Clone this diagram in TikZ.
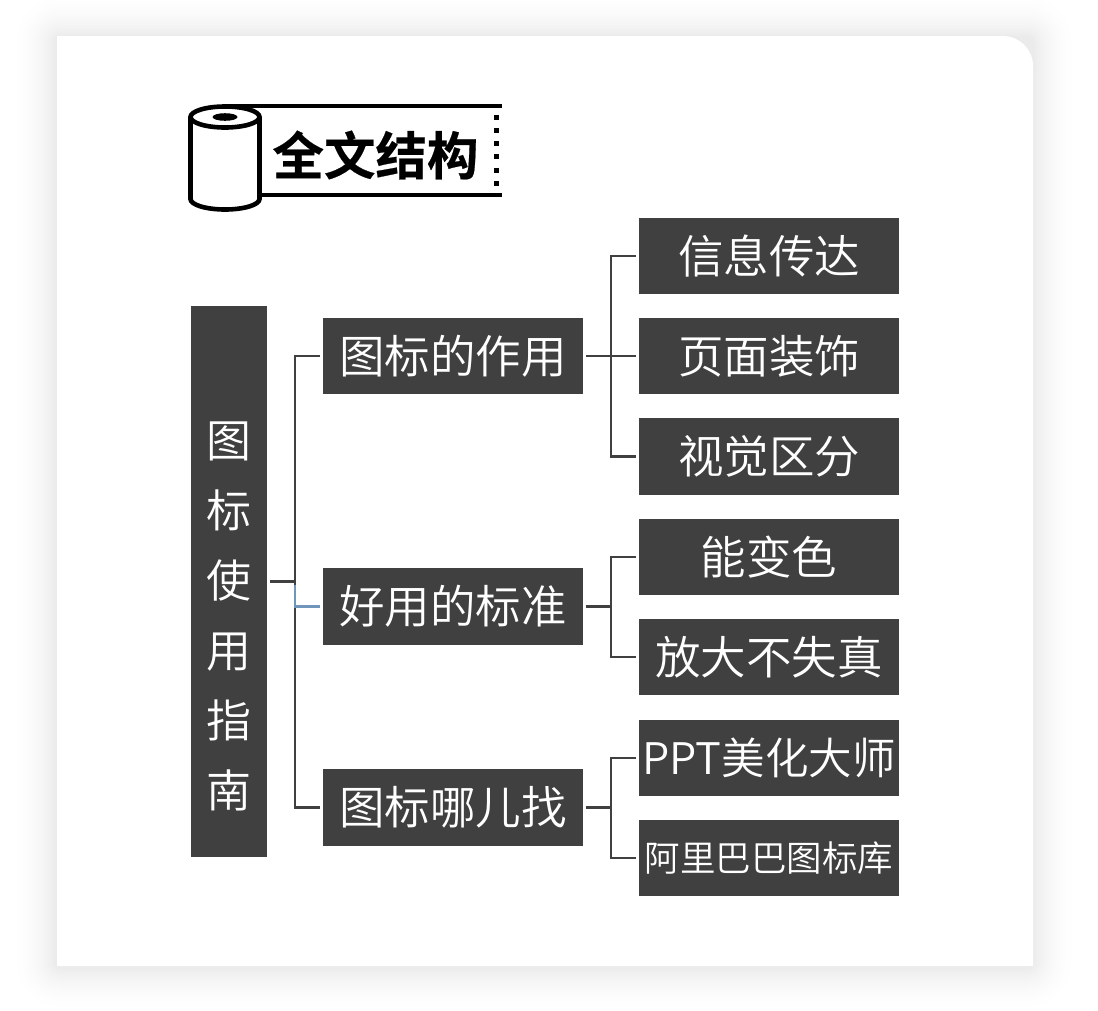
\documentclass[tikz,border=0pt]{standalone}
\usepackage{fontspec}
\setmainfont{Noto Sans CJK SC DemiLight}
\newfontfamily\cjkbold[FakeBold=0.4]{Noto Sans CJK SC Bold}
\definecolor{boxgray}{HTML}{404040}
\definecolor{linkblue}{HTML}{7096BC}
\tikzset{
  boxnode/.style={fill=boxgray,text=white,inner sep=0pt,minimum width=260pt,minimum height=76.5pt,anchor=center,font=\fontsize{45.5}{54}\selectfont},
  rootnode/.style={fill=boxgray,text=white,inner sep=0pt,minimum width=76pt,minimum height=551.5pt,align=center,font=\fontsize{45}{70}\selectfont},
  smalltext/.style={font=\fontsize{35.5}{42}\selectfont},
  midtext/.style={font=\fontsize{43.5}{52}\selectfont},
  conn/.style={draw=boxgray,line width=2.3pt,shorten <=3pt,shorten >=3pt},
  rollline/.style={draw=black,line width=4.6pt},
}
\begin{document}
\begin{tikzpicture}[x=1pt,y=-1pt]
\useasboundingbox (0,0) rectangle (1098,1010);
\fill[white] (0,0) rectangle (1098,1010);
% shadow, painted from the outside in
\foreach \d in {45,44,...,1}{
  \pgfmathsetmacro{\shade}{8*(1-\d/46)*(1-\d/46)}
  \fill[black!\shade!white,rounded corners=\d pt+6pt] (56-\d,37-\d) rectangle (1032+\d,967+\d);
}
% card
\path[fill=white] (57,36) -- (1003,36) arc[start angle=-90,end angle=0,radius=30] -- (1033,966) -- (57,966) -- cycle;
% title icon
\draw[rollline] (225,106) -- (502,106);
\draw[rollline] (260,195) -- (502,195);
\fill[white] (190,117) rectangle (260,199);
\draw[rollline,fill=white] (190.5,117) -- (190.5,199) arc[start angle=180,end angle=360,x radius=34.5,y radius=-10.5] -- (259.5,117);
\draw[rollline,fill=white] (225,117) ellipse[x radius=34.5,y radius=10.5];
\fill[black] (225,117) ellipse[x radius=12.5,y radius=3.8];
\draw[black,line width=5pt,dash pattern=on 5pt off 8.3pt] (496.5,114.5) -- (496.5,188);
\node[inner sep=0pt] (title) at (375.5,155) {\fontsize{51.5}{60}\selectfont\cjkbold 全文结构};
% nodes
\node[rootnode] (root) at (229,581.5) {\mbox{}\\[35pt]图\\标\\使\\用\\指\\南};
\node[boxnode] (a1) at (453,356) {图标的作用};
\node[boxnode] (a2) at (453,606.5) {好用的标准};
\node[boxnode] (a3) at (453,807.5) {图标哪儿找};
\node[boxnode] (l1) at (769,256) {信息传达};
\node[boxnode] (l2) at (769,356) {页面装饰};
\node[boxnode] (l3) at (769,456.5) {视觉区分};
\node[boxnode] (l4) at (769,557) {能变色};
\node[boxnode] (l5) at (769,657) {放大不失真};
\node[boxnode,midtext] (l6) at (769,758) {PPT美化大师};
\node[boxnode,smalltext] (l7) at (769,858) {阿里巴巴图标库};
% connectors
\draw[conn] (root.east) -- ++(28,0) |- (a1.west);
\draw[conn] (root.east) -- ++(28,0) |- (a3.west);
\draw[conn,draw=linkblue] (295,581.5) |- (a2.west);
\draw[conn] (a1.east) -- ++(27.5,0) |- (l1.west);
\draw[conn] (a1.east) -- (l2.west);
\draw[conn] (a1.east) -- ++(27.5,0) |- (l3.west);
\draw[conn] (a2.east) -- ++(27.5,0) |- (l4.west);
\draw[conn] (a2.east) -- ++(27.5,0) |- (l5.west);
\draw[conn] (a3.east) -- ++(27.5,0) |- (l6.west);
\draw[conn] (a3.east) -- ++(27.5,0) |- (l7.west);
\end{tikzpicture}
\end{document}
